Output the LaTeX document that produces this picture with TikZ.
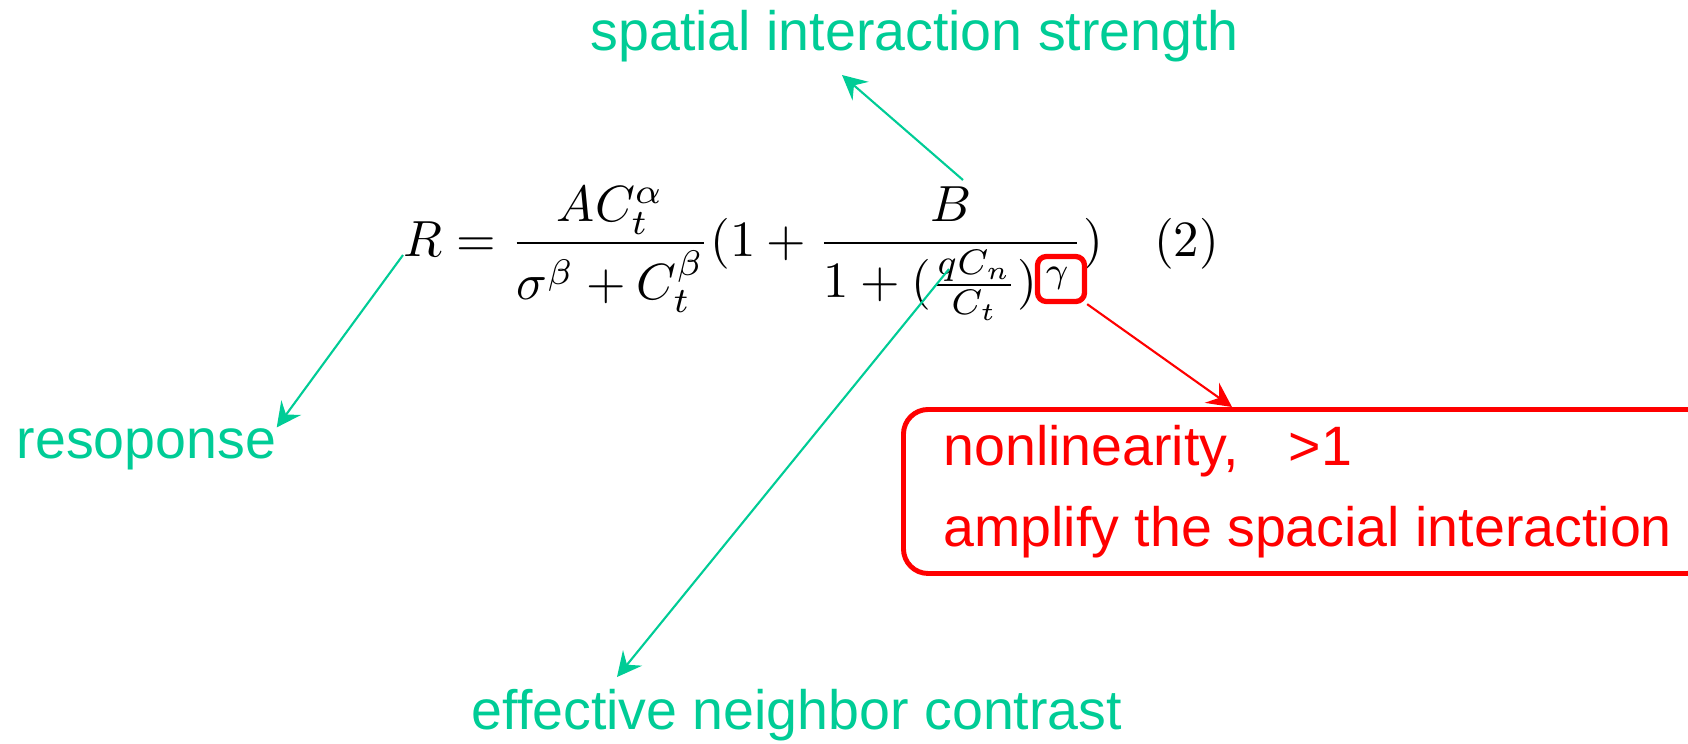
\documentclass[tikz,border=0pt]{standalone}
\usepackage{amsmath}
\usepackage{fontspec}
\newfontfamily\notefont{Liberation Sans}
\usetikzlibrary{positioning,arrows.meta}
\definecolor{notegreen}{RGB}{0,204,150}
\definecolor{notered}{RGB}{255,0,0}
\tikzset{
  note/.style={text=notegreen,font=\notefont\fontsize{15.8}{22}\selectfont,inner sep=0pt},
  rednote/.style={draw=notered,text=notered,font=\notefont\fontsize{15.8}{23}\selectfont,
                  line width=1.4pt,rounded corners=7pt,align=left,inner xsep=4mm,
                  minimum width=78.5mm,minimum height=16.4mm,anchor=north west},
  markbox/.style={draw=notered,line width=1.5pt,rounded corners=2.5pt,
                  minimum width=4.7mm,minimum height=4.5mm,inner sep=0pt},
  pointer/.style={notegreen,line width=0.6pt,-{Stealth[length=7pt,width=7pt,inset=2.5pt]}},
  redpointer/.style={notered,line width=0.6pt,-{Stealth[length=7pt,width=7pt,inset=2.5pt]}}
}

\begin{document}
\begin{tikzpicture}[x=0.1mm,y=-0.1mm]
    \useasboundingbox (0,0) rectangle (1688,743);
    % the equation
    \node[inner sep=0pt,anchor=base west] (eq) at (403,256)
      {\scalebox{1.446}{$\displaystyle R = \frac{AC_t^{\alpha}}{\sigma^{\beta}+C_t^{\beta}}(1+\frac{B}{1+(\frac{qC_n}{C_t})\,\raisebox{2.9pt}{$\scriptstyle\gamma$}\,})\quad(2)$}};
    \node[markbox] (g) at (1061,279) {};
    % labels
    \node[note,anchor=base west] (strength) at (590,50) {spatial interaction strength};
    \node[note,anchor=base west] (resp) at (16,458) {resoponse};
    \node[note,anchor=base west] (contrast) at (471,729) {effective neighbor contrast};
    \node[rednote] (gnote) at (901,407) {nonlinearity,\hspace{0.9em}>1\\amplify the spacial interaction};
    % arrows
    \coordinate (bfoot) at (963,180);
    \coordinate (rfoot) at (403,255);
    \coordinate (cfoot) at (949,269);
    \coordinate (stip) at (842,75);
    \coordinate (ctip) at (617,677);
    \draw[pointer] (bfoot) -- (stip);
    \draw[pointer] (rfoot) -- (resp.north east);
    \draw[pointer] (cfoot) -- (ctip);
    \draw[redpointer] (g.south east) -- (gnote.north -| 1232,0);
  \end{tikzpicture}
\end{document}
